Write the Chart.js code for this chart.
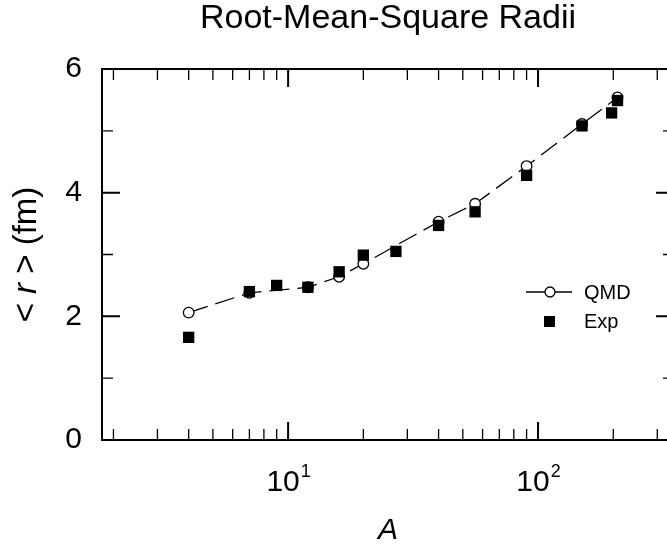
<!DOCTYPE html>
<html>
<head>
<meta charset="utf-8">
<script src="https://cdn.jsdelivr.net/npm/chart.js@4.4.1/dist/chart.umd.min.js"></script>
<style>
html,body{margin:0;padding:0;background:#fff;overflow:hidden;}
#wrap{width:667px;height:547px;overflow:hidden;}
</style>
</head>
<body>
<div id="wrap"><canvas id="c" width="700" height="547"></canvas></div>
<script>
// mass number A vs rms radius (fm)
const qmdA = [4, 7, 12, 16, 20, 40, 56, 90, 150, 208];
const qmdR = [2.06, 2.38, 2.47, 2.64, 2.85, 3.53, 3.82, 4.43, 5.11, 5.54];
const expA = [4, 7, 9, 12, 16, 20, 27, 40, 56, 90, 150, 197, 208];
const expR = [1.66, 2.40, 2.50, 2.47, 2.72, 2.99, 3.05, 3.47, 3.69, 4.28, 5.08, 5.29, 5.49];

const xMajor = [10, 100];
const xMinor = [2, 3, 4, 5, 6, 7, 8, 9, 20, 30, 40, 50, 60, 70, 80, 90, 200, 300];
const xLabels = [['10', '1'], ['10', '2']];
const yMajor = [0, 2, 4, 6];
const yMinor = [1, 3, 5];

const FONT = '"Liberation Sans", Arial, sans-serif';

// inward ticks on all four sides, title, axis titles and legend
const decor = {
    id: 'decor',
    afterDraw(chart) {
        const { ctx, chartArea: a, scales: { x, y } } = chart;
        ctx.save();
        ctx.strokeStyle = '#000';
        ctx.fillStyle = '#000';

        ctx.lineWidth = 2;
        ctx.strokeRect(a.left, a.top, a.right - a.left, a.bottom - a.top);

        const xt = (v, len, w) => {
            const px = x.getPixelForValue(v);
            ctx.lineWidth = w;
            ctx.beginPath();
            ctx.moveTo(px, a.bottom); ctx.lineTo(px, a.bottom - len);
            ctx.moveTo(px, a.top);    ctx.lineTo(px, a.top + len);
            ctx.stroke();
        };
        const yt = (v, len, w) => {
            const py = y.getPixelForValue(v);
            ctx.lineWidth = w;
            ctx.beginPath();
            ctx.moveTo(a.left, py);  ctx.lineTo(a.left + len, py);
            ctx.moveTo(a.right, py); ctx.lineTo(a.right - len, py);
            ctx.stroke();
        };
        xMajor.forEach(v => xt(v, 18, 2));
        xMinor.forEach(v => xt(v, 11, 1.3));
        yMajor.forEach(v => yt(v, 18, 2));
        yMinor.forEach(v => yt(v, 11, 1.3));

        // x tick labels with exponent
        ctx.textBaseline = 'alphabetic';
        ctx.textAlign = 'left';
        xMajor.forEach((v, i) => {
            const [base, exp] = xLabels[i];
            ctx.font = `30px ${FONT}`;
            const wb = ctx.measureText(base).width;
            ctx.font = `18px ${FONT}`;
            const we = ctx.measureText(exp).width;
            const x0 = x.getPixelForValue(v) - (wb + we) / 2;
            ctx.font = `30px ${FONT}`;
            ctx.fillText(base, x0, 491);
            ctx.font = `18px ${FONT}`;
            ctx.fillText(exp, x0 + wb + 1, 477);
        });

        // chart title
        const cx = (a.left + a.right) / 2;
        ctx.textAlign = 'center';
        ctx.font = `34px ${FONT}`;
        ctx.fillText('Root-Mean-Square Radii', cx, 28);

        // x axis title
        ctx.font = `italic 30px ${FONT}`;
        ctx.fillText('A', cx, 539);

        // y axis title, "r" in italics
        const parts = [['< ', ''], ['r', 'italic '], [' > (fm)', '']];
        ctx.save();
        ctx.translate(27, (a.top + a.bottom) / 2);
        ctx.rotate(-Math.PI / 2);
        ctx.textBaseline = 'middle';
        ctx.textAlign = 'left';
        let tw = 0;
        parts.forEach(p => { ctx.font = `${p[1]}33px ${FONT}`; tw += ctx.measureText(p[0]).width; });
        let tx = -tw / 2;
        parts.forEach(p => {
            ctx.font = `${p[1]}33px ${FONT}`;
            ctx.fillText(p[0], tx, 0);
            tx += ctx.measureText(p[0]).width;
        });
        ctx.restore();

        // legend
        ctx.lineWidth = 1.3;
        ctx.beginPath(); ctx.moveTo(526, 292); ctx.lineTo(572, 292); ctx.stroke();
        ctx.beginPath(); ctx.arc(550, 292, 5, 0, Math.PI * 2);
        ctx.fillStyle = '#fff'; ctx.fill(); ctx.stroke();
        ctx.fillStyle = '#000';
        ctx.fillRect(544, 316, 11, 11);
        ctx.font = `20px ${FONT}`;
        ctx.textAlign = 'left';
        ctx.textBaseline = 'middle';
        ctx.fillText('QMD', 584, 293);
        ctx.fillText('Exp', 584, 322);

        ctx.restore();
    }
};

new Chart(document.getElementById('c'), {
    type: 'scatter',
    data: {
        datasets: [
            {
                label: 'Exp', order: 0,
                data: expA.map((a, i) => ({ x: a, y: expR[i] })),
                pointStyle: 'rect', pointRadius: 8, pointBackgroundColor: '#000',
                pointBorderWidth: 0, showLine: false
            },
            {
                label: 'QMD', order: 1,
                data: qmdA.map((a, i) => ({ x: a, y: qmdR[i] })),
                showLine: true, borderColor: '#000', borderWidth: 1.3, borderDash: [20, 8],
                pointStyle: 'circle', pointRadius: 5.3, pointBackgroundColor: '#fff',
                pointBorderColor: '#000', pointBorderWidth: 1.3
            }
        ]
    },
    options: {
        responsive: false, animation: false, devicePixelRatio: 1,
        layout: { padding: { top: 69, right: 26, left: 0, bottom: 0 } },
        plugins: { legend: { display: false }, tooltip: { enabled: false } },
        scales: {
            x: {
                type: 'logarithmic', min: 1.8, max: 350,
                grid: { display: false }, border: { display: false },
                ticks: { display: false },
                afterFit: s => { s.height = 107; }
            },
            y: {
                min: 0, max: 6,
                grid: { display: false, drawTicks: false }, border: { display: false },
                ticks: { stepSize: 2, padding: 20, color: '#000', font: { family: FONT, size: 30 } },
                afterFit: s => { s.width = 102; }
            }
        }
    },
    plugins: [decor]
});
</script>
</body>
</html>
